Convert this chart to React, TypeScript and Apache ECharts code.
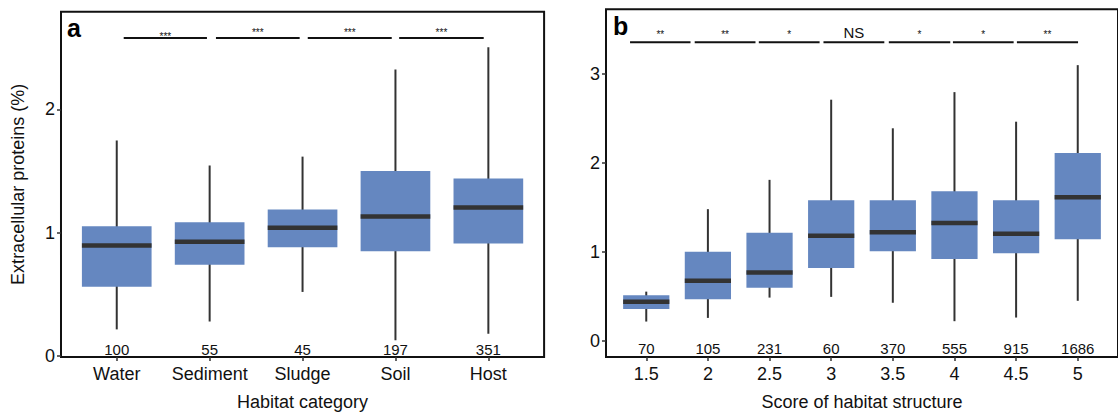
import React, { useEffect, useRef } from "react";
import * as echarts from "echarts";

// ---------- Data ----------
const habitatCategories = ["Water", "Sediment", "Sludge", "Soil", "Host"];
const habitatLow = [0.214, 0.278, 0.518, 0.126, 0.179];
const habitatQ1 = [0.56, 0.739, 0.88, 0.848, 0.912];
const habitatMedian = [0.894, 0.926, 1.038, 1.131, 1.203];
const habitatQ3 = [1.051, 1.083, 1.187, 1.499, 1.438];
const habitatHigh = [1.747, 1.544, 1.616, 2.323, 2.504];
const habitatCounts = [100, 55, 45, 197, 351];
const habitatSigLabels = ["***", "***", "***", "***"];
const habitatSigStart = [0.075, 1.068, 2.056, 3.04];
const habitatSigEnd = [0.971, 1.969, 2.96, 3.95];
const habitatSigY = 2.579;
const habitatStarY = [2.619, 2.651, 2.651, 2.651];
const habitatCountY = 0.062;
const habitatYTicks = [0, 1, 2];

const scoreCategories = ["1.5", "2", "2.5", "3", "3.5", "4", "4.5", "5"];
const scoreLow = [0.221, 0.262, 0.49, 0.498, 0.432, 0.225, 0.266, 0.454];
const scoreQ1 = [0.362, 0.472, 0.601, 0.823, 1.011, 0.922, 0.989, 1.144];
const scoreMedian = [0.443, 0.679, 0.771, 1.185, 1.225, 1.328, 1.207, 1.616];
const scoreQ3 = [0.517, 1.004, 1.218, 1.583, 1.583, 1.683, 1.583, 2.114];
const scoreHigh = [0.557, 1.483, 1.812, 2.712, 2.391, 2.797, 2.465, 3.1];
const scoreCounts = [70, 105, 231, 60, 370, 555, 915, 1686];
const scoreSigLabels = ["**", "**", "*", "NS", "*", "*", "**"];
const scoreSigStart = [-0.263, 0.786, 1.826, 2.875, 3.935, 4.975, 6.013];
const scoreSigEnd = [0.718, 1.772, 2.812, 3.862, 4.932, 5.96, 7.005];
const scoreSigY = 3.358;
const scoreStarY = [3.473, 3.473, 3.473, 3.462, 3.473, 3.473, 3.473];
const scoreCountY = -0.074;
const scoreYTicks = [0, 1, 2, 3];

// ---------- Styles ----------
const FONT = "'Liberation Sans', Arial, Helvetica, sans-serif";
const BOX_FILL = "#6587C0";
const DARK = "#333333";
const TEXT = "#111111";

function boxSeries(idx: number, low: number[], q1: number[], med: number[], q3: number[], high: number[]) {
  const data = low.map((_, i) => [i, low[i], q1[i], med[i], q3[i], high[i]]);
  return {
    type: "custom",
    xAxisIndex: idx,
    yAxisIndex: idx,
    data,
    encode: { x: 0, y: [1, 2, 3, 4, 5] },
    renderItem: (params: any, api: any) => {
      const x = api.value(0);
      const pLo = api.coord([x, api.value(1)]);
      const pQ1 = api.coord([x, api.value(2)]);
      const pMed = api.coord([x, api.value(3)]);
      const pQ3 = api.coord([x, api.value(4)]);
      const pHi = api.coord([x, api.value(5)]);
      const bw = api.size([0.75, 0])[0];
      return {
        type: "group",
        children: [
          {
            type: "line",
            shape: { x1: pLo[0], y1: pLo[1], x2: pHi[0], y2: pHi[1] },
            style: { stroke: DARK, lineWidth: 2 },
          },
          {
            type: "rect",
            shape: { x: pQ3[0] - bw / 2, y: pQ3[1], width: bw, height: pQ1[1] - pQ3[1] },
            style: { fill: BOX_FILL },
          },
          {
            type: "line",
            shape: { x1: pMed[0] - bw / 2, y1: pMed[1], x2: pMed[0] + bw / 2, y2: pMed[1] },
            style: { stroke: DARK, lineWidth: 4.5 },
          },
        ],
      };
    },
    z: 2,
  };
}

function sigSeries(idx: number, starts: number[], ends: number[], lineY: number, starY: number[], labels: string[]) {
  const data = starts.map((s, i) => [s, ends[i], lineY, starY[i]]);
  return {
    type: "custom",
    xAxisIndex: idx,
    yAxisIndex: idx,
    data,
    encode: { x: [0, 1], y: [2, 3] },
    renderItem: (params: any, api: any) => {
      const p1 = api.coord([api.value(0), api.value(2)]);
      const p2 = api.coord([api.value(1), api.value(2)]);
      const mid = (api.value(0) + api.value(1)) / 2;
      const pt = api.coord([mid, api.value(3)]);
      const label = labels[params.dataIndex];
      const isNS = label === "NS";
      return {
        type: "group",
        children: [
          {
            type: "line",
            shape: { x1: p1[0], y1: p1[1], x2: p2[0], y2: p2[1] },
            style: { stroke: "#111", lineWidth: 2 },
          },
          {
            type: "text",
            x: pt[0],
            y: isNS ? pt[1] : pt[1] + 3,
            style: {
              text: label,
              align: "center",
              verticalAlign: "middle",
              fontFamily: FONT,
              fontSize: isNS ? 15 : 10,
              fill: TEXT,
            },
          },
        ],
      };
    },
    z: 3,
  };
}

function countSeries(idx: number, counts: number[], y: number) {
  const data = counts.map((_, i) => [i, y]);
  return {
    type: "custom",
    xAxisIndex: idx,
    yAxisIndex: idx,
    data,
    encode: { x: 0, y: 1 },
    renderItem: (params: any, api: any) => {
      const p = api.coord([api.value(0), api.value(1)]);
      return {
        type: "text",
        x: p[0],
        y: p[1] + 1,
        style: {
          text: String(counts[params.dataIndex]),
          align: "center",
          verticalAlign: "middle",
          fontFamily: FONT,
          fontSize: 15,
          fill: TEXT,
        },
      };
    },
    z: 3,
  };
}

function xAxisCfg(idx: number, cats: string[], min: number, max: number, name: string) {
  const vals = cats.map((_, i) => i);
  return {
    type: "value",
    gridIndex: idx,
    min,
    max,
    axisLine: { show: false, onZero: false },
    splitLine: { show: false },
    axisTick: { show: true, length: 4, lineStyle: { color: DARK, width: 1.5 }, customValues: vals },
    axisLabel: {
      customValues: vals,
      formatter: (v: number) => cats[Math.round(v)] ?? "",
      fontSize: 18,
      fontFamily: FONT,
      color: TEXT,
      margin: 8,
    },
    name,
    nameLocation: "middle",
    nameGap: 36,
    nameTextStyle: { fontSize: 18, fontFamily: FONT, color: TEXT },
  };
}

function yAxisCfg(idx: number, ticks: number[], min: number, max: number, name: string) {
  return {
    type: "value",
    gridIndex: idx,
    min,
    max,
    axisLine: { show: false, onZero: false },
    splitLine: { show: false },
    axisTick: { show: true, length: 4, lineStyle: { color: DARK, width: 1.5 }, customValues: ticks },
    axisLabel: {
      customValues: ticks,
      formatter: (v: number) => String(v),
      fontSize: 18,
      fontFamily: FONT,
      color: TEXT,
      margin: 6,
    },
    name,
    nameLocation: "middle",
    nameGap: 34,
    nameTextStyle: { fontSize: 18, fontFamily: FONT, color: TEXT },
  };
}

export default function App() {
  const ref = useRef<HTMLDivElement>(null);

  useEffect(() => {
    document.body.style.margin = "0";
    if (!ref.current) return;
    const chart = echarts.init(ref.current, undefined, { renderer: "svg" });
    const option: any = {
      animation: false,
      backgroundColor: "#ffffff",
      grid: [
        { left: 61, top: 11.7, width: 483.1, height: 350.3, show: true, borderColor: "#111", borderWidth: 2, backgroundColor: "transparent" },
        { left: 606, top: 9.3, width: 524.6, height: 352.7, show: true, borderColor: "#111", borderWidth: 2, backgroundColor: "transparent" },
      ],
      xAxis: [
        xAxisCfg(0, habitatCategories, -0.6, 4.6, "Habitat category"),
        xAxisCfg(1, scoreCategories, -0.653, 7.653, "Score of habitat structure"),
      ],
      yAxis: [
        yAxisCfg(0, habitatYTicks, -0.01, 2.792, "Extracellular proteins (%)"),
        yAxisCfg(1, scoreYTicks, -0.177, 3.727, ""),
      ],
      series: [
        boxSeries(0, habitatLow, habitatQ1, habitatMedian, habitatQ3, habitatHigh),
        sigSeries(0, habitatSigStart, habitatSigEnd, habitatSigY, habitatStarY, habitatSigLabels),
        countSeries(0, habitatCounts, habitatCountY),
        boxSeries(1, scoreLow, scoreQ1, scoreMedian, scoreQ3, scoreHigh),
        sigSeries(1, scoreSigStart, scoreSigEnd, scoreSigY, scoreStarY, scoreSigLabels),
        countSeries(1, scoreCounts, scoreCountY),
      ],
      graphic: [
        { type: "text", left: 67, top: 15, style: { text: "a", fontFamily: FONT, fontWeight: "bold", fontSize: 25, fill: "#000" } },
        { type: "text", left: 613, top: 13, style: { text: "b", fontFamily: FONT, fontWeight: "bold", fontSize: 25, fill: "#000" } },
      ],
    };
    chart.setOption(option);
    return () => chart.dispose();
  }, []);

  return <div ref={ref} style={{ width: 1118, height: 416 }} />;
}
